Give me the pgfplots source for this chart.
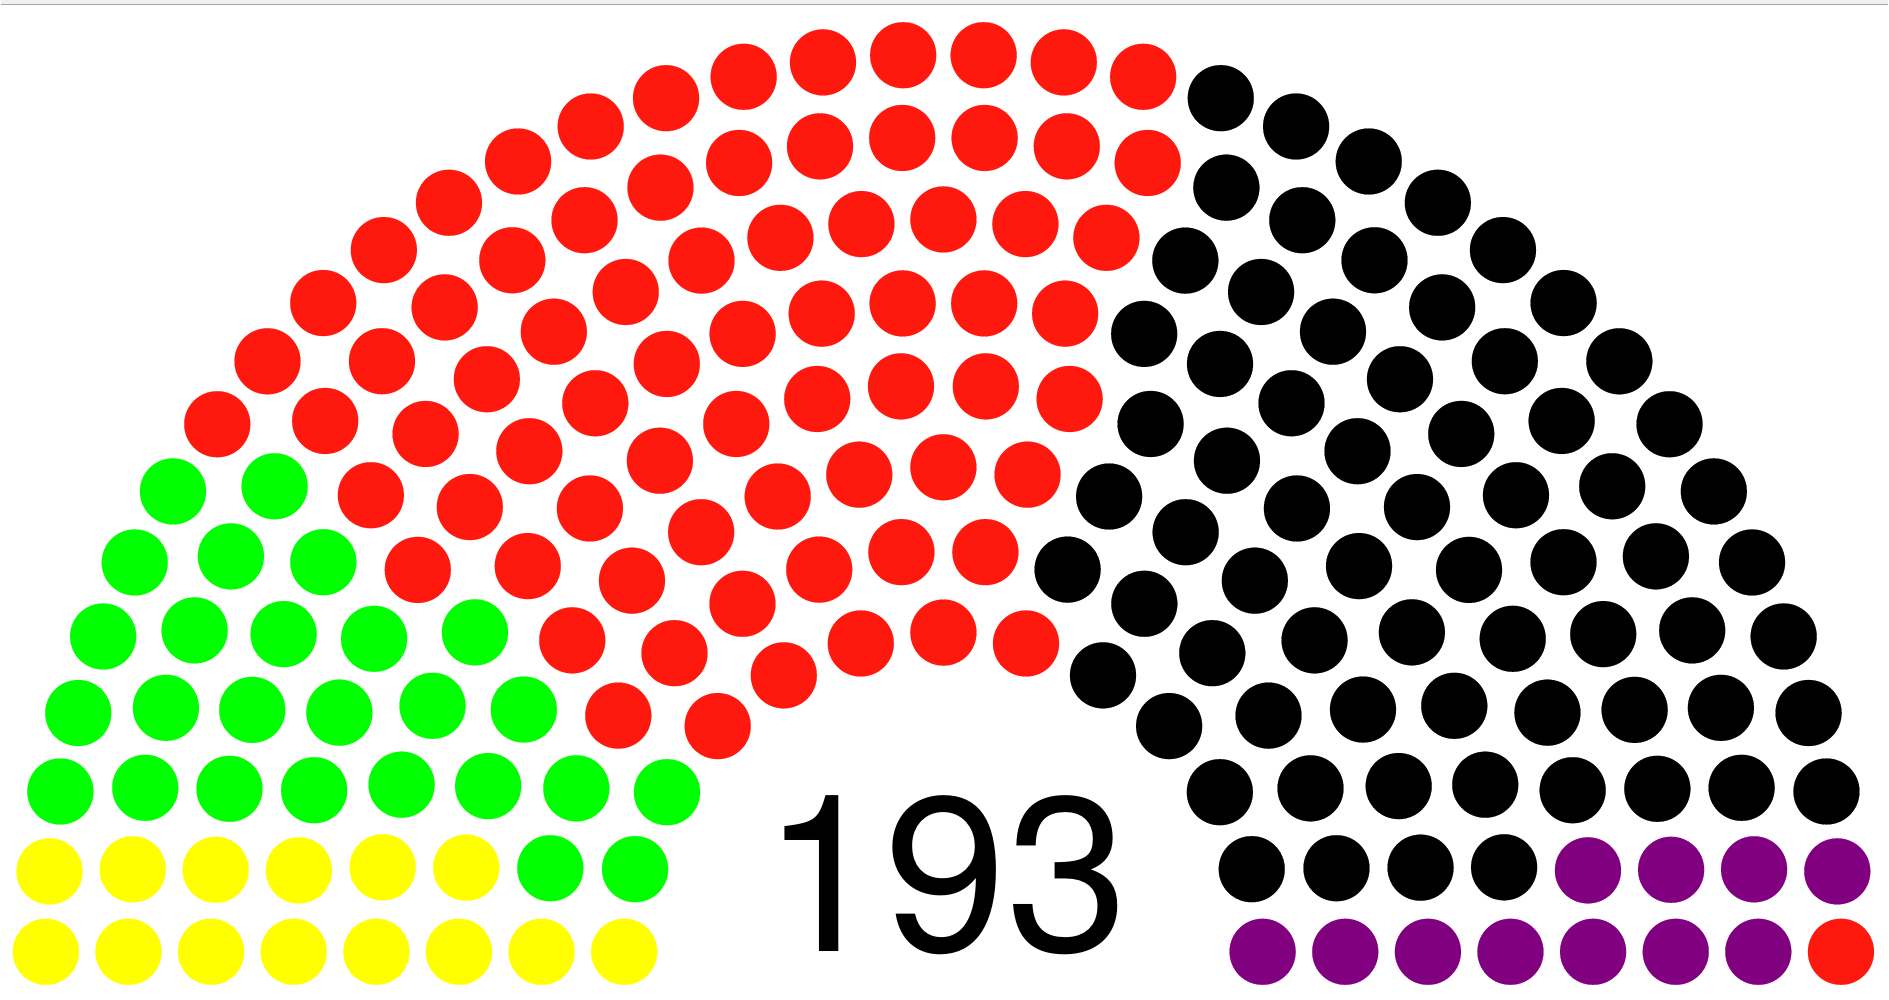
\documentclass[border=0pt]{standalone}
\usepackage{pgfplots}
\pgfplotsset{compat=1.18}
\usepackage{fontspec}
\setmainfont{TeX Gyre Heros}
\newfontfamily\heros{TeX Gyre Heros}
\definecolor{pyel}{RGB}{255,255,0}
\definecolor{pgrn}{RGB}{0,255,0}
\definecolor{pred}{RGB}{255,24,14}
\definecolor{pblk}{RGB}{0,0,0}
\definecolor{ppur}{RGB}{128,0,128}
\begin{document}
\begin{tikzpicture}
\begin{axis}[
  scale only axis, width=944.5pt, height=500pt,
  xmin=-943.4, xmax=945.6, ymin=-47.6, ymax=952.4,
  axis line style={draw=none}, ticks=none, clip=false,
  every axis plot/.append style={only marks, mark=*, mark size=16.5pt, data cs=polar, line width=0.1pt},
]
\fill[black!6] (axis cs:-943.4,947.6) rectangle (axis cs:945.6,952.4);
\draw[black!35, line width=0.6pt] (axis cs:-943.4,947.6) -- (axis cs:945.6,947.6);
% yellow
\addplot[color=pyel, mark options={fill=pyel, draw=pyel}] coordinates {
(180,898.1) (174.86,898.1)
(180,815.4) (174.19,815.4)
(180,732.8) (173.57,732.8)
(180,650.1) (172.8,650.1)
(180,567.4) (171.43,567.4)
(180,484.8) (170,484.8)
(180,402.1)
(180,319.4)
};
% green
\addplot[color=pgrn, mark options={fill=pgrn, draw=pgrn}] coordinates {
(169.71,898.1) (164.57,898.1) (159.43,898.1) (154.29,898.1) (149.14,898.1)
(168.39,815.4) (162.58,815.4) (156.77,815.4) (150.97,815.4) (145.16,815.4)
(167.14,732.8) (160.71,732.8) (154.29,732.8) (147.86,732.8)
(165.6,650.1) (158.4,650.1) (151.2,650.1)
(162.86,567.4) (154.29,567.4) (145.71,567.4)
(160,484.8) (150,484.8)
(168,402.1) (156,402.1)
(165,319.4) (150,319.4)
};
% red
\addplot[color=pred, mark options={fill=pred, draw=pred}] coordinates {
(144,898.1) (138.86,898.1) (133.71,898.1) (128.57,898.1) (123.43,898.1) (118.29,898.1) (113.14,898.1) (108,898.1) (102.86,898.1) (97.71,898.1) (92.57,898.1) (87.43,898.1) (82.29,898.1) (77.14,898.1)
(139.35,815.4) (133.55,815.4) (127.74,815.4) (121.94,815.4) (116.13,815.4) (110.32,815.4) (104.52,815.4) (98.71,815.4) (92.90,815.4) (87.10,815.4) (81.29,815.4) (75.48,815.4)
(141.43,732.8) (135,732.8) (128.57,732.8) (122.14,732.8) (115.71,732.8) (109.29,732.8) (102.86,732.8) (96.43,732.8) (90,732.8) (83.57,732.8) (77.14,732.8)
(144,650.1) (136.8,650.1) (129.6,650.1) (122.4,650.1) (115.2,650.1) (108,650.1) (100.8,650.1) (93.6,650.1) (86.4,650.1) (79.2,650.1)
(137.14,567.4) (128.57,567.4) (120,567.4) (111.43,567.4) (102.86,567.4) (94.29,567.4) (85.71,567.4) (77.14,567.4)
(140,484.8) (130,484.8) (120,484.8) (110,484.8) (100,484.8) (90,484.8) (80,484.8)
(144,402.1) (132,402.1) (120,402.1) (108,402.1) (96,402.1) (84,402.1)
(135,319.4) (120,319.4) (105,319.4) (90,319.4) (75,319.4)
};
% black
\addplot[color=pblk, mark options={fill=pblk, draw=pblk}] coordinates {
(72,898.1) (66.86,898.1) (61.71,898.1) (56.57,898.1) (51.43,898.1) (46.29,898.1) (41.14,898.1) (36,898.1) (30.86,898.1) (25.71,898.1) (20.57,898.1) (15.43,898.1) (10.29,898.1)
(69.68,815.4) (63.87,815.4) (58.06,815.4) (52.26,815.4) (46.45,815.4) (40.65,815.4) (34.84,815.4) (29.03,815.4) (23.23,815.4) (17.42,815.4) (11.61,815.4)
(70.71,732.8) (64.29,732.8) (57.86,732.8) (51.43,732.8) (45,732.8) (38.57,732.8) (32.14,732.8) (25.71,732.8) (19.29,732.8) (12.86,732.8)
(72,650.1) (64.8,650.1) (57.6,650.1) (50.4,650.1) (43.2,650.1) (36,650.1) (28.8,650.1) (21.6,650.1) (14.4,650.1)
(68.57,567.4) (60,567.4) (51.43,567.4) (42.86,567.4) (34.29,567.4) (25.71,567.4) (17.14,567.4) (8.57,567.4)
(70,484.8) (60,484.8) (50,484.8) (40,484.8) (30,484.8) (20,484.8) (10,484.8)
(72,402.1) (60,402.1) (48,402.1) (36,402.1) (24,402.1) (12,402.1)
(60,319.4) (45,319.4) (30,319.4) (15,319.4)
};
% purple
\addplot[color=ppur, mark options={fill=ppur, draw=ppur}] coordinates {
(5.14,898.1)
(5.81,815.4) (0,815.4)
(6.43,732.8) (0,732.8)
(7.2,650.1) (0,650.1)
(0,567.4)
(0,484.8)
(0,402.1)
(0,319.4)
};
% single red seat
\addplot[color=pred, mark options={fill=pred, draw=pred}] coordinates {
(0,898.1)
};
\node[anchor=base west, inner sep=0pt, font={\heros\fontsize{110pt}{111pt}\selectfont}] at (axis cs:-181.7,0) {193};
\end{axis}
\end{tikzpicture}
\end{document}
